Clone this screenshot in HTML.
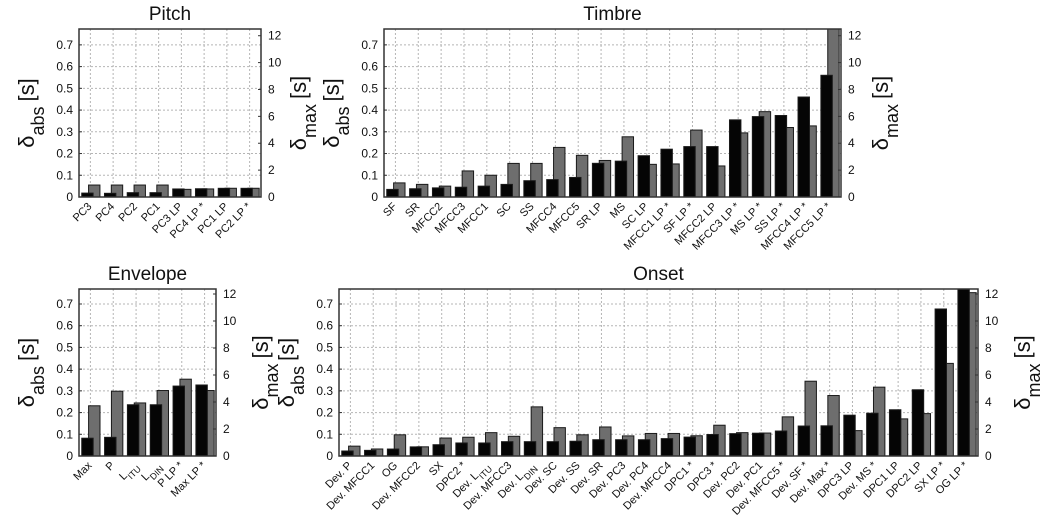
<!DOCTYPE html>
<html><head><meta charset="utf-8"><style>
body{margin:0;background:#fff}
svg{display:block;font-family:"Liberation Sans",sans-serif}
</style></head><body>
<svg id="chart" width="1043" height="525" viewBox="0 0 1043 525" xmlns="http://www.w3.org/2000/svg"></svg>
<script>
// Pitch
const pitchCats = ["PC3","PC4","PC2","PC1","PC3 LP","PC4 LP*","PC1 LP","PC2 LP*"];
const pitchAbs = [0.018,0.017,0.02,0.02,0.037,0.038,0.04,0.04];
const pitchMax = [0.89,0.89,0.89,0.89,0.57,0.6,0.65,0.65];
// Timbre
const timbreCats = ["SF","SR","MFCC2","MFCC3","MFCC1","SC","SS","MFCC4","MFCC5","SR LP","MS","SC LP","MFCC1 LP*","SF LP*","MFCC2 LP","MFCC3 LP*","MS LP*","SS LP*","MFCC4 LP*","MFCC5 LP*"];
const timbreAbs = [0.035,0.038,0.042,0.045,0.05,0.058,0.075,0.08,0.09,0.155,0.165,0.19,0.22,0.232,0.232,0.355,0.37,0.375,0.46,0.56];
const timbreMax = [1.05,0.94,0.81,1.94,1.62,2.5,2.5,3.69,3.1,2.72,4.48,2.43,2.46,4.98,2.31,4.77,6.35,5.17,5.29,13];
// Envelope
const envCats = ["Max","P","L_ITU","L_DIN","P LP*","Max LP*"];
const envAbs = [0.082,0.086,0.236,0.236,0.322,0.327];
const envMax = [3.72,4.8,3.93,4.85,5.69,4.85];
// Onset
const onsetCats = ["Dev. P","Dev. MFCC1","OG","Dev. MFCC2","SX","DPC2*","Dev. L_ITU","Dev. MFCC3","Dev. L_DIN","Dev. SC","Dev. SS","Dev. SR","Dev. PC3","Dev. PC4","Dev. MFCC4","DPC1*","DPC3*","Dev. PC2","Dev. PC1","Dev. MFCC5*","Dev. SF*","Dev. Max*","DPC3 LP","Dev. MS*","DPC1 LP","DPC2 LP","SX LP*","OG LP*"];
const onsetAbs = [0.023,0.026,0.032,0.042,0.052,0.06,0.06,0.066,0.066,0.066,0.068,0.075,0.075,0.075,0.08,0.087,0.099,0.103,0.105,0.115,0.138,0.139,0.188,0.197,0.213,0.305,0.677,0.8];
const onsetMax = [0.73,0.52,1.57,0.68,1.33,1.39,1.73,1.46,3.64,2.1,1.57,2.15,1.49,1.67,1.67,1.5,2.28,1.73,1.7,2.9,5.54,4.48,1.88,5.1,2.75,3.14,6.86,12.1];
const leftTicks = [0,0.1,0.2,0.3,0.4,0.5,0.6,0.7];
const rightTicks = [0,2,4,6,8,10,12];

const svg = document.getElementById('chart');
const NS = "http://www.w3.org/2000/svg";
function mk(tag, attrs, parent){const e=document.createElementNS(NS,tag);for(const k in attrs)e.setAttribute(k,attrs[k]);(parent||svg).appendChild(e);return e;}

function setLabel(t, s){
  const m = s.match(/^(.*)L_(ITU|DIN)(.*)$/);
  if(m){
    if(m[1]) t.appendChild(document.createTextNode(m[1]));
    t.appendChild(document.createTextNode('L'));
    const sub=document.createElementNS(NS,'tspan');sub.setAttribute('baseline-shift','sub');sub.setAttribute('font-size','9');sub.textContent=m[2];t.appendChild(sub);
    if(m[3]){const r=document.createElementNS(NS,'tspan');r.setAttribute('baseline-shift','0');r.textContent=m[3];t.appendChild(r);}
  } else t.textContent=s.replace('*',' *');
}

function axisTitle(x,y,main,sub,name){
  const t=mk('text',{x:x,y:y,transform:`rotate(-90 ${x} ${y})`,'text-anchor':'middle','font-size':'22',fill:'#111'});
  
  
  t.appendChild(document.createTextNode('δ'));
  const s=document.createElementNS(NS,'tspan');s.setAttribute('baseline-shift','sub');s.setAttribute('font-size','18');s.textContent=sub;t.appendChild(s);
  const r=document.createElementNS(NS,'tspan');r.setAttribute('dx','5');r.textContent='[s]';t.appendChild(r);
}

function panel(id,title,cats,abs,mx,x0,x1,y0,y1,lmax,rmax,opts){
  const g=mk('g',{});
  
  
  const n=cats.length, s=(x1-x0)/n;
  const yL=v=>y1-(v/lmax)*(y1-y0);
  const yR=v=>y1-(v/rmax)*(y1-y0);
  const cx=i=>x0+(i+0.5)*s;
  const tt=mk('text',{x:(x0+x1)/2,y:y0-9,'text-anchor':'middle','font-size':'19',fill:'#111'},g);
  
  
  tt.textContent=title;
  // grid
  leftTicks.forEach(v=>{const l=mk('line',{x1:x0,x2:x1,y1:yL(v),y2:yL(v),stroke:'#b5b5b5','stroke-dasharray':'2,2','stroke-width':1},g);
    
    });
  cats.forEach((c,i)=>{const l=mk('line',{x1:cx(i),x2:cx(i),y1:y0,y2:y1,stroke:'#b5b5b5','stroke-dasharray':'2,2','stroke-width':1},g);
    
    });
  const cid='clip-'+id;
  const cp=mk('clipPath',{id:cid},g);mk('rect',{x:x0,y:y0,width:x1-x0,height:y1-y0},cp);
  const bg=mk('g',{'clip-path':`url(#${cid})`},g);
  cats.forEach((c,i)=>{
    const gy=yR(mx[i]);
    const r=mk('rect',{x:cx(i)-0.08*s,y:gy,width:0.5*s,height:Math.max(0,y1-gy),fill:'#6e6e6e',stroke:'#1a1a1a','stroke-width':1},bg);
    
    
    const by=yL(abs[i]);
    const b=mk('rect',{x:cx(i)-0.38*s,y:by,width:0.5*s,height:Math.max(0,y1-by),fill:'#050505',stroke:'#1a1a1a','stroke-width':1},bg);
    
    
    const t=mk('text',{x:cx(i)+2,y:y1+10,'text-anchor':'end','font-size':'11',fill:'#111',transform:`rotate(-45 ${cx(i)+2} ${y1+10})`},g);
    
    
    setLabel(t,c);
  });
  const fr=mk('rect',{x:x0,y:y0,width:x1-x0,height:y1-y0,fill:'none',stroke:'#333','stroke-width':1.5},g);
  
  
  leftTicks.forEach(v=>{const t=mk('text',{x:x0-6,y:yL(v)+4,'text-anchor':'end','font-size':'12',fill:'#111'},g);
    
    
    t.textContent=v===0?'0':v.toFixed(1);
    mk('line',{x1:x0,x2:x0+3,y1:yL(v),y2:yL(v),stroke:'#333'},g);});
  rightTicks.forEach(v=>{const t=mk('text',{x:x1+7,y:yR(v)+4,'text-anchor':'start','font-size':'12',fill:'#111'},g);
    
    
    t.textContent=v;
    mk('line',{x1:x1-3,x2:x1,y1:yR(v),y2:yR(v),stroke:'#333'},g);});
  axisTitle(x0-45,(y0+y1)/2,'δ','abs',id+'-left-axis-title');
  axisTitle(x1+opts.rt,(y0+y1)/2,'δ','max',id+'-right-axis-title');
}
panel('pitch','Pitch',pitchCats,pitchAbs,pitchMax,79,261,29,197,0.773,12.5,{rt:45});
panel('timbre','Timbre',timbreCats,timbreAbs,timbreMax,384,841,29,197,0.773,12.5,{rt:47});
panel('envelope','Envelope',envCats,envAbs,envMax,79,216,289,456,0.769,12.37,{rt:52});
panel('onset','Onset',onsetCats,onsetAbs,onsetMax,339,978,289,456,0.769,12.37,{rt:52});
</script>
</body></html>
